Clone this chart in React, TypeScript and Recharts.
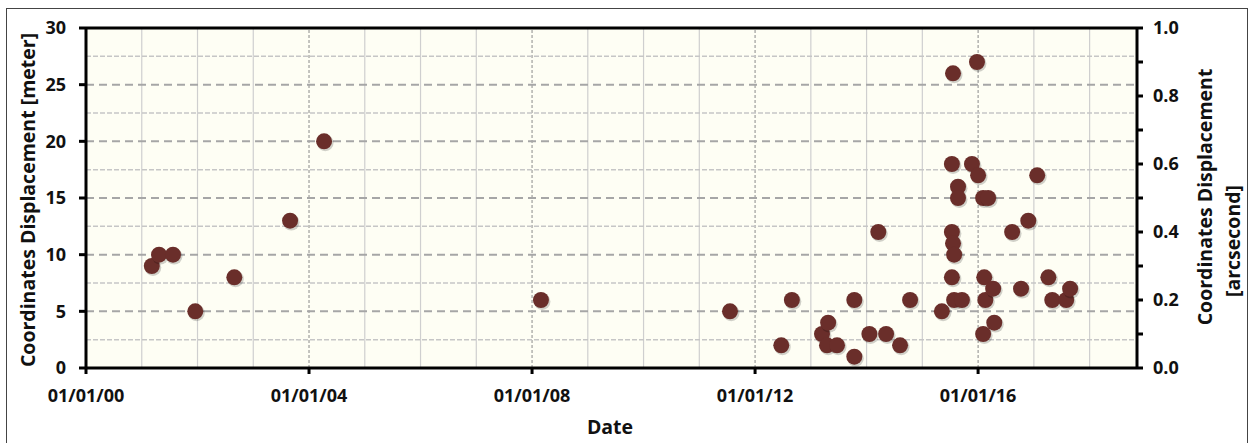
import {
  ScatterChart,
  Scatter,
  XAxis,
  YAxis,
  CartesianGrid,
  ReferenceLine,
  Label,
} from 'recharts';

// observation dates as decimal years
const dates = [
  2001.18, 2001.31, 2001.56, 2001.96, 2002.66, 2003.66, 2004.27, 2008.16,
  2011.55, 2012.47, 2012.66, 2013.2, 2013.31, 2013.29, 2013.47, 2013.78,
  2013.78, 2014.05, 2014.21, 2014.35, 2014.6, 2014.78, 2015.35, 2015.55,
  2015.98, 2015.53, 2015.89, 2016.0, 2015.64, 2015.64, 2015.53, 2015.55,
  2015.57, 2015.53, 2015.57, 2015.71, 2016.09, 2016.18, 2016.11, 2016.13,
  2016.27, 2016.29, 2016.09, 2016.61, 2016.77, 2016.9, 2017.06, 2017.26,
  2017.33, 2017.58, 2017.65,
];
// displacement in meters
const displacement = [
  9, 10, 10, 5, 8, 13, 20, 6,
  5, 2, 6, 3, 4, 2, 2, 1,
  6, 3, 12, 3, 2, 6, 5, 26,
  27, 18, 18, 17, 16, 15, 12, 11,
  10, 8, 6, 6, 15, 15, 8, 6,
  7, 4, 3, 12, 7, 13, 17, 8,
  6, 6, 7,
];

const yearTicks = [2000, 2004, 2008, 2012, 2016];
const minorYears = [2001, 2002, 2003, 2005, 2006, 2007, 2009, 2010, 2011, 2013, 2014, 2015, 2017, 2018];
const meterTicks = [0, 5, 10, 15, 20, 25, 30];
const majorMeterLines = [5, 10, 15, 20, 25];
const minorMeterLines = [2.5, 7.5, 12.5, 17.5, 22.5, 27.5];
const arcTicks = [0, 0.1, 0.2, 0.3, 0.4, 0.5, 0.6, 0.7, 0.8, 0.9, 1.0];

const points = dates.map((d, i) => ({ date: d, meter: displacement[i] }));

const font = '"Open Sans", sans-serif';
const tickStyle = { fontSize: 18, fontWeight: 700, fill: '#111', fontFamily: font };
const titleStyle = { fontSize: 19.5, fontWeight: 700, fill: '#111', fontFamily: font };

const Dot = (props: any) => {
  const { cx, cy } = props;
  if (cx == null || cy == null) return <g />;
  return (
    <g>
      <circle cx={cx + 1.2} cy={cy + 1.6} r={8.3} fill="rgba(0,0,0,0.18)" />
      <circle cx={cx} cy={cy} r={8} fill="#6a2e2a" />
    </g>
  );
};

const fmtDate = (y: number) => `01/01/${String(Math.round(y) % 100).padStart(2, '0')}`;

export default function App() {
  return (
    <div
      style={{
        position: 'absolute',
        left: 0,
        top: 0,
        width: 1254,
        height: 443,
        background: '#fff',
        overflow: 'hidden',
      }}
    >
      <div
        style={{
          position: 'absolute',
          left: 6,
          top: 8,
          width: 1242,
          height: 450,
          border: '1px solid #444',
          boxSizing: 'border-box',
        }}
      />
      <ScatterChart
        width={1254}
        height={443}
        margin={{ top: 28, right: 67, bottom: 35, left: 36 }}
        style={{ position: 'absolute', left: 0, top: 0 }}
      >
        <CartesianGrid fill="#fefef4" horizontal={false} vertical={false} yAxisId="m" />
        {minorYears.map((y) => (
          <ReferenceLine key={'vy' + y} x={y} yAxisId="m" stroke="#cfcfcf" strokeWidth={1.2} />
        ))}
        {yearTicks.slice(1).map((y) => (
          <ReferenceLine key={'vm' + y} x={y} yAxisId="m" stroke="#8a8a8a" strokeWidth={1} strokeDasharray="3 2" />
        ))}
        {minorMeterLines.map((v) => (
          <ReferenceLine key={'hn' + v} y={v} yAxisId="m" stroke="#c6c6c6" strokeWidth={1.5} strokeDasharray="5 2" />
        ))}
        {majorMeterLines.map((v) => (
          <ReferenceLine key={'hm' + v} y={v} yAxisId="m" stroke="#a6a6a6" strokeWidth={2} strokeDasharray="8 5" />
        ))}
        <ReferenceLine y={30} yAxisId="m" stroke="#000" strokeWidth={3} />
        <XAxis
          dataKey="date"
          type="number"
          domain={[2000, 2018.85]}
          ticks={yearTicks}
          tickFormatter={fmtDate}
          allowDataOverflow
          height={40}
          axisLine={{ stroke: '#000', strokeWidth: 3 }}
          tickLine={{ stroke: '#000', strokeWidth: 3 }}
          tickSize={6}
          tickMargin={15}
          tick={tickStyle}
        >
          <Label
            content={() => (
              <text x={610} y={434} textAnchor="middle" style={titleStyle}>
                Date
              </text>
            )}
          />
        </XAxis>
        <YAxis
          yAxisId="m"
          dataKey="meter"
          type="number"
          domain={[0, 30]}
          ticks={meterTicks}
          width={50}
          axisLine={{ stroke: '#000', strokeWidth: 3 }}
          tickLine={{ stroke: '#000', strokeWidth: 3 }}
          tickSize={7}
          tickMargin={13}
          tick={tickStyle}
        >
          <Label
            content={() => (
              <text
                x={27}
                y={200}
                transform="rotate(-90 27 200)"
                textAnchor="middle"
                dominantBaseline="central"
                style={titleStyle}
              >
                Coordinates Displacement [meter]
              </text>
            )}
          />
        </YAxis>
        <YAxis
          yAxisId="arc"
          orientation="right"
          type="number"
          domain={[0, 1]}
          ticks={arcTicks}
          allowDataOverflow
          tickFormatter={(v: number) => (Math.round(v * 10) % 2 === 0 ? v.toFixed(1) : '')}
          width={50}
          axisLine={{ stroke: '#000', strokeWidth: 3 }}
          tickLine={{ stroke: '#000', strokeWidth: 3 }}
          tickSize={6}
          tickMargin={10}
          tick={tickStyle}
        >
          <Label
            content={() => (
              <g style={titleStyle}>
                <text
                  x={1204}
                  y={197}
                  transform="rotate(-90 1204 197)"
                  textAnchor="middle"
                  dominantBaseline="central"
                >
                  Coordinates Displacement
                </text>
                <text
                  x={1232}
                  y={241}
                  transform="rotate(-90 1232 241)"
                  textAnchor="middle"
                  dominantBaseline="central"
                >
                  [arcsecond]
                </text>
              </g>
            )}
          />
        </YAxis>
        <Scatter data={[]} yAxisId="arc" dataKey="meter" isAnimationActive={false} legendType="none" />
        <Scatter data={points} yAxisId="m" shape={Dot} isAnimationActive={false} />
      </ScatterChart>
    </div>
  );
}
